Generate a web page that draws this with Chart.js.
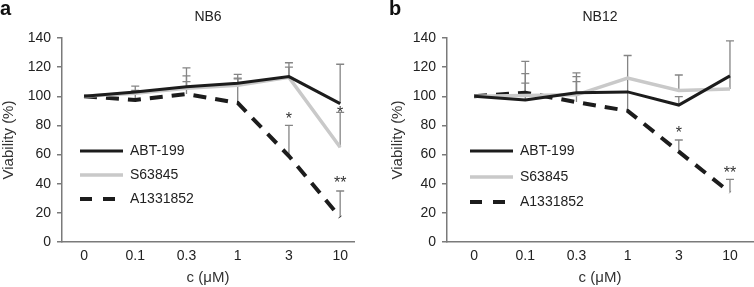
<!DOCTYPE html>
<html>
<head>
<meta charset="utf-8">
<script src="https://cdn.jsdelivr.net/npm/chart.js@4.4.1/dist/chart.umd.min.js"></script>
<style>
  body { margin: 0; background: #fff; }
  .panel { position: absolute; top: 0; width: 377px; height: 287px; }
</style>
</head>
<body>
<div class="panel" style="left:0"><canvas id="nb6" width="377" height="287"></canvas></div>
<div class="panel" style="left:377px"><canvas id="nb12" width="377" height="287"></canvas></div>
<script>
// dose categories (c, uM)
const doses = ['0', '0.1', '0.3', '1', '3', '10'];
const drugNames = ['ABT-199', 'S63845', 'A1331852'];

// NB6 viability (%)
const nb6Abt  = [100, 103, 106.5, 109, 113.5, 95];
const nb6S63  = [100, 102, 105.5, 107.5, 113, 65];
const nb6A133 = [100, 97.5, 101.5, 95.5, 59, 17];
// NB6 upper error (SD)
const nb6AbtErr  = [0, 4, 13, 6, 9.5, 27];
const nb6S63Err  = [0, 1, 8.5, 4.5, 7, 24];
const nb6A133Err = [0, 6.5, 8.5, 17, 21, 18];

// NB12 viability (%)
const nb12Abt  = [100, 97.5, 102.5, 103, 94, 114];
const nb12S63  = [100, 100.5, 101, 112.5, 104, 105];
const nb12A133 = [100, 102.5, 96, 90, 62, 34];
// NB12 upper error (SD)
const nb12AbtErr  = [0, 11.5, 11, 0, 5.7, 0];
const nb12S63Err  = [0, 15, 15, 0, 10.6, 33];
const nb12A133Err = [0, 21.5, 14, 38, 8, 9];

// significance marks [dose index, value, text]
const nb6Stars  = [[4, 85.5, '*'], [5, 90, '*'], [5, 42, '**']];
const nb12Stars = [[4, 76, '*'], [5, 49, '**']];

const FONT = 'Liberation Sans, Arial, sans-serif';
const lineColors = ['#1c1c1c', '#c9c9c9', '#1c1c1c'];
const lineWidths = [3, 3.5, 4];
const lineDashes = [[], [], [13, 9]];

const decor = {
  id: 'decor',
  beforeDatasetsDraw(chart) {
    const o = chart.options.plugins.decor;
    const ctx = chart.ctx, xs = chart.scales.x, ys = chart.scales.y;
    ctx.save();
    ctx.strokeStyle = '#858585';
    ctx.lineWidth = 1.3;
    o.values.forEach((vals, s) => {
      vals.forEach((v, i) => {
        const e = o.errors[s][i];
        if (!e) return;
        const x = xs.getPixelForValue(i);
        const y0 = ys.getPixelForValue(v), y1 = ys.getPixelForValue(v + e);
        ctx.beginPath();
        ctx.moveTo(x, y0); ctx.lineTo(x, y1);
        ctx.moveTo(x - 4, y1); ctx.lineTo(x + 4, y1);
        ctx.stroke();
      });
    });
    ctx.restore();
  },
  afterDraw(chart) {
    const o = chart.options.plugins.decor;
    const ctx = chart.ctx, xs = chart.scales.x, ys = chart.scales.y, a = chart.chartArea;
    ctx.save();
    ctx.fillStyle = '#111';
    ctx.font = 'bold 20px ' + FONT;
    ctx.textBaseline = 'alphabetic';
    ctx.textAlign = 'left';
    ctx.fillText(o.letter, o.letterX, 15);
    ctx.font = '14px ' + FONT;
    ctx.fillStyle = '#222';
    ctx.textAlign = 'center';
    ctx.textBaseline = 'middle';
    ctx.fillText(o.title, (a.left + a.right) / 2, 17);
    // stars
    ctx.font = '16px ' + FONT;
    ctx.fillStyle = '#333';
    ctx.textBaseline = 'alphabetic';
    o.stars.forEach(([i, v, t]) => {
      ctx.fillText(t, xs.getPixelForValue(i), ys.getPixelForValue(v) + 7);
    });
    // legend
    ctx.textAlign = 'left';
    ctx.textBaseline = 'middle';
    ctx.font = '14px ' + FONT;
    drugNames.forEach((name, s) => {
      const y = o.legendYs[s];
      ctx.strokeStyle = lineColors[s];
      ctx.lineWidth = lineWidths[s];
      ctx.setLineDash(lineDashes[s].length ? [12, 11] : []);
      ctx.beginPath();
      ctx.moveTo(o.legendX, y); ctx.lineTo(o.legendX + 43, y);
      ctx.stroke();
      ctx.setLineDash([]);
      ctx.fillStyle = '#222';
      ctx.fillText(name, o.legendX + 50, y);
    });
    ctx.restore();
  }
};

function makeChart(id, p) {
  const series = [p.abt, p.s63, p.a133];
  return new Chart(document.getElementById(id), {
    type: 'line',
    data: {
      datasets: series.map((vals, s) => ({
        label: drugNames[s],
        data: vals.map((v, i) => ({ x: i, y: v })),
        borderColor: lineColors[s],
        borderWidth: lineWidths[s],
        borderDash: lineDashes[s],
        pointRadius: 0,
        tension: 0,
        fill: false
      }))
    },
    options: {
      responsive: false,
      animation: false,
      devicePixelRatio: 1,
      layout: { padding: { left: 0, right: p.padRight, top: 38, bottom: 0 } },
      plugins: {
        legend: { display: false },
        tooltip: { enabled: false },
        decor: {
          letter: p.letter, letterX: p.letterX, title: p.title,
          values: series, errors: p.errors, stars: p.stars,
          legendX: p.legendX, legendYs: p.legendYs
        }
      },
      scales: {
        x: {
          type: 'linear',
          min: p.xMin, max: p.xMax,
          afterFit: (sc) => { sc.height = 45; },
          afterBuildTicks: (sc) => { sc.ticks = doses.map((d, i) => ({ value: i })); },
          ticks: {
            callback: (v) => doses[v],
            font: { family: FONT, size: 14 },
            color: '#222',
            padding: 6,
            maxRotation: 0
          },
          grid: { display: false, drawTicks: false },
          border: { color: '#7a7a7a', width: 1.5 },
          title: {
            display: true, text: 'c (μM)',
            font: { family: FONT, size: 15 }, color: '#333',
            padding: { top: 0, bottom: 0 }
          }
        },
        y: {
          min: 0, max: 140,
          afterFit: (sc) => { sc.width = p.yWidth; },
          ticks: {
            stepSize: 20,
            font: { family: FONT, size: 14 },
            color: '#222',
            padding: 6
          },
          grid: { drawOnChartArea: false, drawTicks: true, tickLength: 5, color: '#7a7a7a', lineWidth: 1.5 },
          border: { color: '#7a7a7a', width: 1.5 },
          title: {
            display: true, text: 'Viability (%)',
            font: { family: FONT, size: 15 }, color: '#333',
            padding: { top: p.yTitlePad, bottom: 0 }
          }
        }
      }
    },
    plugins: [decor]
  });
}

makeChart('nb6', {
  abt: nb6Abt, s63: nb6S63, a133: nb6A133,
  errors: [nb6AbtErr, nb6S63Err, nb6A133Err],
  stars: nb6Stars, title: 'NB6', letter: 'a', letterX: 0,
  xMin: -0.43, xMax: 5.27, yWidth: 62, padRight: 23, yTitlePad: 0,
  legendX: 80, legendYs: [151, 175, 199]
});

makeChart('nb12', {
  abt: nb12Abt, s63: nb12S63, a133: nb12A133,
  errors: [nb12AbtErr, nb12S63Err, nb12A133Err],
  stars: nb12Stars, title: 'NB12', letter: 'b', letterX: 12,
  xMin: -0.53, xMax: 5.45, yWidth: 70, padRight: 1, yTitlePad: 12,
  legendX: 93, legendYs: [151, 177, 202]
});
</script>
</body>
</html>
